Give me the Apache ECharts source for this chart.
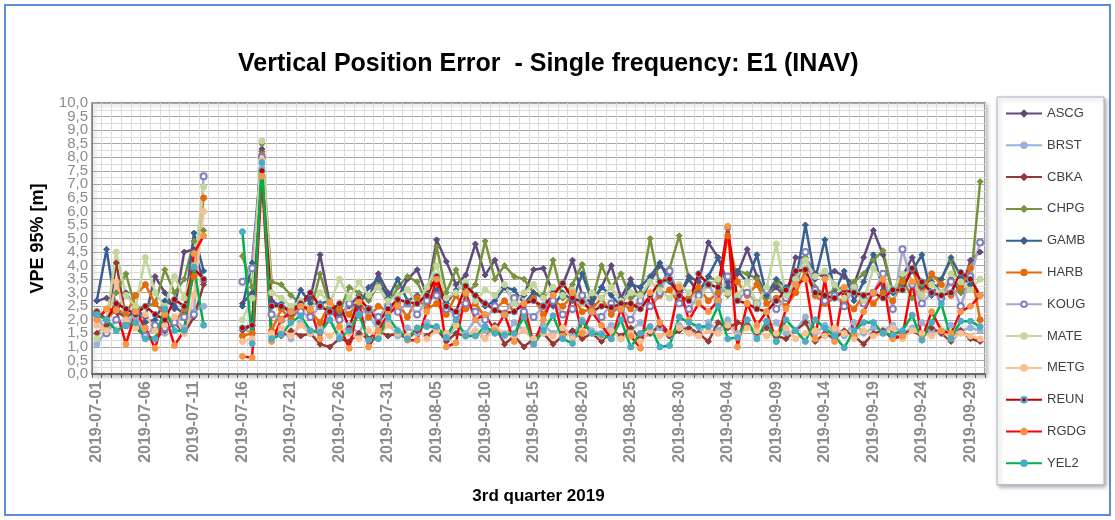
<!DOCTYPE html>
<html>
<head>
<meta charset="utf-8">
<script src="https://cdn.jsdelivr.net/npm/echarts@6/dist/echarts.min.js"></script>
<style>
html, body { margin: 0; padding: 0; background: #fff; }
#chart { width: 1115px; height: 520px; }
</style>
</head>
<body>
<div id="chart"></div>
<script>
// days of the 3rd quarter 2019
var months = ['07', '08', '09'];
var monthDays = [31, 31, 30];
var days = [];
for (var m = 0; m < months.length; m++) {
    for (var d = 1; d <= monthDays[m]; d++) {
        days.push('2019-' + months[m] + '-' + (d < 10 ? '0' + d : d));
    }
}

var yTicks = [0, 10, 0.5];

// VPE 95% [m], one row per month (jul, aug, sep); null = no data
var ASCG = [
    2.7,2.8,2.3,3.0,2.4,2.1,3.6,3.0,2.4,4.5,4.6,3.4,null,null,null,2.6,3.0,8.3,2.7,2.5,2.3,2.6,2.8,4.4,2.6,2.2,2.5,2.9,2.8,3.7,3.0,
    2.8,3.5,3.85,2.9,4.95,4.15,3.3,3.65,4.8,3.65,4.2,3.2,2.7,2.9,3.85,3.9,3.0,3.3,4.2,2.9,2.6,3.2,4.0,2.8,3.5,2.7,3.4,4.0,3.7,2.9,3.6,
    3.4,4.85,4.3,3.4,3.7,4.6,3.6,2.9,3.2,2.8,4.3,4.3,3.7,3.6,3.8,3.6,3.3,4.3,5.3,4.4,3.0,3.6,4.3,3.2,3.4,3.0,3.5,3.0,4.2,4.5
];
var BRST = [
    1.1,1.6,2.0,1.8,2.1,1.4,1.7,1.5,2.0,1.7,2.3,2.5,null,null,null,1.7,1.5,7.6,1.4,1.6,1.3,1.9,1.5,1.7,2.0,1.4,1.8,1.5,2.2,1.6,1.9,
    1.4,1.7,1.5,1.9,1.6,1.3,1.8,1.5,2.0,1.6,1.7,1.4,1.9,1.6,1.3,1.8,1.5,1.7,1.4,2.0,1.6,1.5,1.8,1.3,1.6,1.9,1.5,1.7,1.4,1.8,1.6,
    1.5,1.9,1.6,2.0,1.5,1.8,1.4,1.7,1.9,1.5,1.6,2.1,1.5,1.8,1.6,1.4,1.9,1.5,1.7,1.6,1.8,1.5,1.7,1.9,1.6,1.5,1.8,1.6,1.7,1.6
];
var CBKA = [
    1.5,1.8,4.1,2.0,1.7,1.4,1.3,1.6,1.9,1.5,2.1,3.3,null,null,null,1.6,1.8,7.5,1.6,1.4,1.6,1.4,1.5,1.1,1.0,1.3,1.2,1.5,1.3,1.6,1.4,
    1.5,1.3,1.6,1.4,1.7,1.2,1.5,1.4,1.6,1.3,1.8,1.1,1.4,1.0,1.3,1.5,1.1,1.4,1.6,1.3,1.5,1.2,1.6,1.4,1.7,1.3,1.5,1.8,1.4,1.6,1.7,
    1.5,1.2,1.9,1.7,1.9,1.8,1.5,1.7,1.4,1.3,1.6,1.9,1.2,1.5,1.3,1.6,1.4,1.1,1.5,1.6,1.3,1.5,1.6,1.4,1.7,1.5,1.2,1.6,1.3,1.2
];
var CHPG = [
    2.0,2.4,3.0,3.7,2.4,2.5,2.6,3.85,3.0,3.5,4.9,5.3,null,null,null,4.35,3.2,8.5,3.4,3.3,2.9,2.6,2.3,3.7,2.5,2.3,3.2,3.0,2.7,3.3,2.6,
    3.2,3.6,3.4,2.6,4.7,3.0,3.85,2.9,3.3,4.9,3.5,4.0,3.6,3.5,3.0,2.9,4.2,2.8,3.3,4.05,2.7,4.0,3.2,3.7,2.8,3.0,5.0,3.2,3.9,5.1,3.5,
    3.0,3.6,3.4,2.9,3.8,3.7,3.5,2.8,3.4,2.9,3.3,4.3,3.2,2.9,3.1,3.2,3.4,3.7,4.2,4.55,3.0,3.5,2.8,3.3,3.6,3.5,4.2,3.0,3.3,7.1
];
var GAMB = [
    2.7,4.6,2.3,2.1,2.3,1.9,2.0,2.7,2.5,2.2,5.2,3.8,null,null,null,2.5,4.1,8.2,2.5,2.6,2.2,3.1,2.6,2.6,2.7,2.0,2.6,2.5,3.2,3.5,2.8,
    3.5,2.7,2.9,2.7,3.1,2.6,3.1,3.3,2.9,2.5,2.7,3.2,3.1,2.6,3.0,2.8,2.5,3.0,2.7,3.7,2.7,3.2,2.9,2.5,3.3,3.2,3.6,4.1,3.4,2.9,3.5,
    3.0,3.6,4.3,3.2,3.8,3.4,4.4,2.9,3.5,3.2,3.4,5.5,3.5,4.95,3.0,3.8,2.7,3.4,4.4,3.1,3.0,3.3,3.8,4.4,2.9,3.5,4.3,3.6,3.3,2.9
];
var HARB = [
    2.3,2.0,2.4,2.2,2.9,3.3,2.6,2.2,1.9,2.4,3.6,6.5,null,null,null,1.4,1.5,8.1,1.6,2.4,2.0,2.5,2.3,1.9,2.6,2.4,2.2,2.7,2.1,2.5,2.3,
    2.6,2.1,2.8,2.4,2.6,2.2,2.9,2.4,2.6,2.1,2.4,2.7,2.3,2.6,2.8,2.2,2.7,2.5,2.9,2.3,2.4,2.8,2.2,2.6,2.4,2.7,2.5,2.9,3.1,2.6,2.8,
    3.2,2.7,3.0,5.1,3.4,2.9,3.3,2.6,2.8,2.5,3.0,3.8,2.9,2.6,2.8,2.7,2.4,2.9,2.6,3.0,2.7,3.4,3.9,2.9,3.7,3.3,2.9,3.2,3.9,2.0
];
var KOUG = [
    2.2,1.5,2.0,1.8,2.3,1.4,1.8,1.7,1.9,2.1,2.2,7.3,null,null,null,3.4,3.9,8.0,2.2,2.0,2.4,2.3,2.1,2.5,2.3,2.0,2.6,2.2,2.4,2.1,2.5,
    2.3,2.6,2.2,2.7,2.9,2.4,2.2,2.6,2.3,2.0,2.5,2.2,2.8,2.3,2.1,2.5,2.7,2.2,2.4,2.9,2.3,2.1,2.6,2.4,2.0,2.7,2.5,3.0,3.8,2.6,2.4,
    2.9,3.3,2.7,3.6,2.8,3.0,2.6,3.1,2.4,2.8,3.5,4.5,3.1,2.7,2.9,2.5,3.2,2.6,3.0,3.7,2.4,4.6,3.3,2.6,3.0,2.8,3.4,2.5,3.6,4.85
];
var MATE = [
    1.3,2.0,4.5,2.9,2.5,4.3,3.0,2.5,3.6,2.8,4.0,6.9,null,null,null,2.0,2.8,8.6,3.0,2.8,2.5,2.7,2.4,3.0,2.6,3.5,2.8,3.4,2.9,3.2,2.7,
    2.9,3.1,2.6,3.2,4.0,2.8,3.0,3.4,2.7,3.1,2.9,3.3,2.6,3.0,3.3,2.8,3.2,2.9,3.1,2.6,3.0,2.8,3.2,2.7,3.0,2.9,3.4,3.1,2.8,3.3,3.0,
    2.7,3.3,3.5,3.0,2.9,3.4,2.6,3.2,4.8,2.9,3.5,4.2,3.6,3.8,3.3,2.8,3.2,2.7,3.9,3.5,3.1,3.7,3.4,2.9,3.3,3.0,3.7,3.4,3.1,3.5
];
var METG = [
    1.8,1.6,3.4,2.0,1.7,2.2,1.6,1.8,2.1,1.5,2.9,6.0,null,null,null,1.2,1.3,7.9,1.5,1.7,1.4,1.8,1.5,1.6,1.4,1.7,1.5,1.3,1.6,1.4,1.8,
    1.5,1.4,1.7,1.3,1.6,1.5,1.8,1.4,1.6,1.3,1.7,1.5,1.4,1.6,1.3,1.5,1.4,1.7,1.3,1.6,1.5,1.4,1.6,1.3,1.5,1.2,1.6,1.4,1.5,1.7,1.5,
    1.4,1.6,1.5,1.8,1.4,1.7,1.6,1.4,1.5,1.7,1.3,1.5,1.6,1.4,1.7,1.5,1.3,1.6,1.4,1.5,1.7,1.3,1.6,1.5,1.4,1.6,1.3,1.5,1.4,1.3
];
var REUN = [
    2.3,2.0,2.6,2.4,2.2,2.5,2.2,2.0,2.75,2.5,3.9,3.5,null,null,null,1.7,1.8,7.5,2.5,2.5,2.3,2.6,3.0,2.5,2.3,2.6,1.7,2.8,2.4,1.9,2.4,
    2.75,2.65,2.6,2.9,3.6,2.5,2.3,3.25,2.9,2.6,2.35,2.25,2.3,2.6,2.7,2.5,2.9,3.35,2.8,2.67,2.3,2.5,2.45,2.6,2.6,2.4,2.9,3.4,3.5,2.9,2.7,
    3.7,3.3,3.2,5.4,2.7,2.6,2.4,2.3,2.7,3.1,3.8,3.85,3.0,2.9,2.8,3.1,3.0,2.9,3.0,2.8,3.1,3.1,3.9,3.4,3.0,2.9,3.0,3.75,3.5,2.9
];
var RGDG = [
    2.0,2.4,2.35,1.1,2.3,1.7,0.95,2.2,1.05,1.6,4.45,5.1,null,null,null,0.65,0.6,7.3,1.2,2.0,2.3,2.5,2.4,1.3,2.65,1.75,0.95,2.65,1.0,1.6,2.2,
    2.5,1.25,1.25,2.3,3.5,1.0,1.15,3.0,2.0,2.2,1.6,2.2,1.2,2.6,1.1,2.0,2.9,1.4,3.0,1.5,2.3,1.8,1.3,2.4,1.4,0.95,3.0,1.9,1.5,3.2,2.0,
    2.6,2.3,2.7,5.45,1.0,2.6,1.8,2.3,1.2,2.4,3.3,3.5,1.3,3.5,1.2,3.2,1.5,2.3,3.0,3.5,1.3,1.4,3.4,1.3,2.3,1.6,1.5,2.3,2.5,2.9
];
var YEL2 = [
    2.2,2.0,1.6,1.8,1.9,1.3,1.3,2.4,1.6,1.6,3.95,1.8,null,null,null,5.25,1.13,7.8,1.3,1.45,1.9,2.15,1.6,1.55,2.0,1.3,1.6,2.2,1.25,1.3,2.1,
    1.6,1.3,1.7,1.75,1.75,1.35,2.0,1.4,1.4,1.75,1.5,1.45,1.5,2.1,1.1,1.6,2.15,1.3,1.13,1.93,1.5,1.45,1.3,2.0,1.0,1.5,1.75,1.0,1.05,2.1,1.9,
    1.75,1.75,2.5,1.3,1.35,2.0,1.3,1.95,1.2,2.0,1.6,1.2,2.0,1.7,1.4,0.97,1.6,1.9,1.9,1.5,1.45,1.6,2.17,1.25,1.9,2.6,1.3,1.95,1.95,1.75
];

// station: data, line colour, marker, marker colour
var stations = [
    ['ASCG', ASCG, '#604A7B', 'diamond', '#604A7B'],
    ['BRST', BRST, '#95B3D7', 'circle', '#95B3D7'],
    ['CBKA', CBKA, '#953735', 'diamond', '#953735'],
    ['CHPG', CHPG, '#77933C', 'diamond', '#77933C'],
    ['GAMB', GAMB, '#376092', 'diamond', '#376092'],
    ['HARB', HARB, '#E46C0A', 'circle', '#E46C0A'],
    ['KOUG', KOUG, '#A9A8CF', 'emptyCircle', '#7F7FBF'],
    ['MATE', MATE, '#C3D69B', 'circle', '#C3D69B'],
    ['METG', METG, '#FAC090', 'circle', '#FAC090'],
    ['REUN', REUN, '#C00000', 'circle', '#C00000'],
    ['RGDG', RGDG, '#FF0000', 'circle', '#F79646'],
    ['YEL2', YEL2, '#00B050', 'circle', '#4BACC6']
];

var series = stations.map(function (s) {
    return {
        name: s[0],
        type: 'line',
        data: s[1],
        symbol: s[3],
        symbolSize: 6,
        showAllSymbol: true,
        connectNulls: false,
        lineStyle: { color: s[2], width: 2.5 },
        itemStyle: { color: s[4], borderColor: s[0] === 'REUN' ? '#4BACC6' : s[4], borderWidth: 1 },
        emphasis: { disabled: true }
    };
});

var labelFont = { fontFamily: 'Liberation Sans', fontSize: 15, color: '#8C8C8C', margin: 4 };
function commaFmt(v) { return v.toFixed(1).replace('.', ','); }

var myChart = echarts.init(document.getElementById('chart'));
var option = {
    backgroundColor: '#fff',
    animation: false,
    title: {
        text: 'Vertical Position Error  - Single frequency: E1 (INAV)',
        left: 233,
        top: 47,
        textStyle: { fontFamily: 'Liberation Sans', fontSize: 25, fontWeight: 'bold', color: '#000' }
    },
    graphic: [{
        type: 'rect',
        shape: { x: 5, y: 5, width: 1105, height: 510 },
        style: { fill: 'none', stroke: '#5B8ED6', lineWidth: 2 },
        silent: true
    }],
    legend: {
        orient: 'vertical',
        left: 997,
        top: 97,
        itemWidth: 36,
        itemHeight: 7,
        itemGap: 16.8,
        padding: [9, 18, 14, 8],
        backgroundColor: '#fff',
        borderColor: '#A6B4CC',
        borderWidth: 1,
        shadowBlur: 4,
        shadowColor: 'rgba(0,0,0,0.3)',
        shadowOffsetX: 2,
        shadowOffsetY: 2,
        textStyle: { fontFamily: 'Liberation Sans', fontSize: 13, lineHeight: 15, color: '#404040' },
        data: stations.map(function (s) { return s[0]; })
    },
    grid: {
        left: 92, top: 103, right: 130, bottom: 146,
        show: true,
        borderColor: '#808080',
        borderWidth: 1.5,
        shadowBlur: 4,
        shadowColor: 'rgba(0,0,0,0.25)',
        shadowOffsetX: 2,
        shadowOffsetY: 2,
        backgroundColor: '#fff'
    },
    xAxis: [{
        type: 'category',
        data: days,
        boundaryGap: true,
        position: 'bottom',
        name: '3rd quarter 2019',
        nameLocation: 'middle',
        nameGap: 114,
        nameTextStyle: { fontFamily: 'Liberation Sans', fontSize: 17, fontWeight: 'bold', color: '#000' },
        axisLine: { lineStyle: { color: '#595959', width: 1.5 } },
        axisTick: { show: true, interval: 0, length: 4, lineStyle: { color: '#595959' } },
        axisLabel: {
            interval: 4,
            rotate: 90,
            margin: 7,
            fontFamily: 'Liberation Sans',
            fontSize: 16,
            fontWeight: 'bold',
            color: '#8C8C8C'
        },
        splitLine: { show: true, interval: 4, lineStyle: { color: '#A6A6A6', width: 1 } }
    }, {
        type: 'category',
        data: days,
        boundaryGap: true,
        position: 'bottom',
        axisLine: { show: false },
        axisTick: { show: false },
        axisLabel: { show: false },
        splitLine: { show: true, interval: 0, lineStyle: { color: '#DCDCDC', width: 1 } }
    }],
    yAxis: [{
        type: 'value',
        position: 'left',
        min: yTicks[0],
        max: yTicks[1],
        interval: yTicks[2],
        name: 'VPE 95% [m]',
        nameLocation: 'middle',
        nameGap: 45,
        nameTextStyle: { fontFamily: 'Liberation Sans', fontSize: 18, fontWeight: 'bold', color: '#000' },
        axisLine: { show: true, lineStyle: { color: '#808080' } },
        axisTick: { show: false },
        axisLabel: Object.assign({ formatter: commaFmt }, labelFont),
        splitLine: { lineStyle: { color: '#A6A6A6', width: 1 } },
        minorTick: { show: false, splitNumber: 2 },
        minorSplitLine: { show: true, lineStyle: { color: '#DCDCDC', width: 1 } }
    }, {
        // only the end labels 0,0 and 10,0 (hidden on the dense axis)
        type: 'value',
        position: 'left',
        min: yTicks[0],
        max: yTicks[1],
        interval: yTicks[1] - yTicks[0],
        axisLine: { show: false },
        axisTick: { show: false },
        splitLine: { show: false },
        axisLabel: Object.assign({ formatter: commaFmt }, labelFont)
    }],
    series: series
};
myChart.setOption(option);
</script>
</body>
</html>
